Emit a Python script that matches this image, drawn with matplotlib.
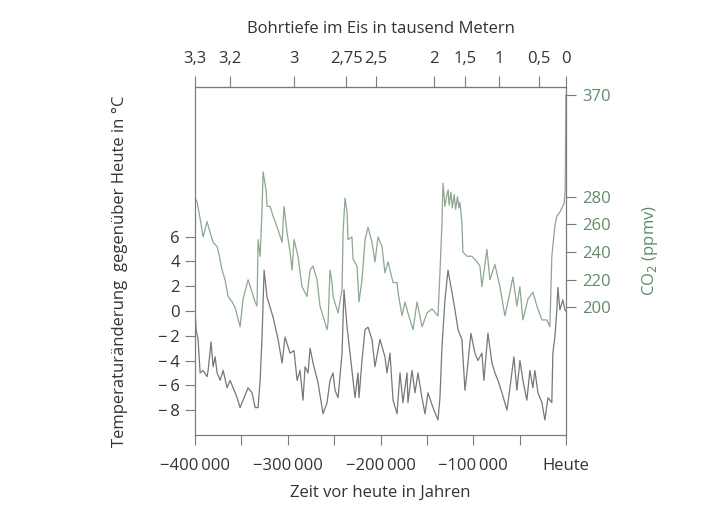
import numpy as np
import matplotlib.pyplot as plt

plt.rcParams['font.family'] = ['Open Sans', 'DejaVu Sans']

# Temperature change (deg C) relative to today, years before present (negative)
years_temp = [-400000, -398900, -396800, -394600, -391400, -387100, -386000, -382800,
              -380600, -378400, -376300, -373000, -369800, -365500, -362300, -359000,
              -354700, -351500, -348300, -342900, -338600, -335300, -332100, -329900,
              -327800, -325600, -322400, -319100, -315900, -310500, -306200, -303000,
              -299700, -297600, -293300, -290000, -286800, -283600, -281400, -278200,
              -276000, -272800, -267400, -262000, -257700, -254500, -251200, -249100,
              -245800, -241500, -239400, -236100, -232900, -230800, -227500, -224300,
              -223200, -220000, -216700, -213500, -209200, -206000, -200600, -195200,
              -193000, -189800, -186500, -182200, -179000, -175800, -171400, -170400,
              -166000, -162800, -159600, -155300, -152000, -148800, -143400, -138000,
              -135900, -133700, -130500, -127200, -122900, -119700, -116400, -112200,
              -108900, -106800, -102500, -98200, -95000, -90600, -88500, -84100,
              -79800, -76600, -73300, -69000, -63600, -60400, -56100, -52900,
              -49600, -46400, -42100, -38900, -35600, -33500, -30200, -25900,
              -22700, -19400, -15200, -14100, -11900, -9800, -8700, -6500,
              -3300, -1100, 0]
temp_change = [0.0, -1.5, -2.3, -5.0, -4.8, -5.3, -4.8, -2.5,
               -4.5, -3.7, -5.0, -5.6, -4.8, -6.2, -5.6, -6.2,
               -7.0, -7.8, -7.2, -6.2, -6.6, -7.8, -7.8, -5.6,
               -2.1, 3.3, 1.1, 0.3, -0.5, -2.3, -4.2, -2.1,
               -2.9, -3.4, -3.2, -5.6, -4.8, -7.2, -4.5, -5.0,
               -3.0, -4.2, -5.8, -8.3, -7.4, -5.6, -5.0, -6.4,
               -7.0, -3.4, 1.7, -1.3, -3.4, -4.8, -7.0, -5.0,
               -7.0, -4.0, -1.5, -1.3, -2.3, -4.5, -2.3, -3.7,
               -5.0, -3.4, -7.2, -8.3, -5.0, -7.4, -5.0, -7.4,
               -4.8, -6.6, -5.0, -7.0, -8.3, -6.6, -7.8, -8.8,
               -7.0, -2.9, 0.9, 3.3, 1.5, 0.1, -1.5, -2.3,
               -6.4, -5.0, -1.8, -3.4, -4.0, -3.4, -5.6, -1.8,
               -4.2, -5.0, -5.6, -6.6, -8.0, -6.2, -3.7, -6.4,
               -4.0, -5.6, -7.2, -4.8, -6.2, -4.8, -6.6, -7.4,
               -8.8, -7.0, -7.4, -3.4, -2.1, 0.1, 1.9, 0.1,
               0.9, 0.1, 0.0]

# CO2 concentration (ppmv)
years_co2 = [-400000, -397800, -394600, -391400, -387100, -383800, -380600, -376300,
             -374100, -370900, -367700, -364400, -360100, -356900, -351500, -348300,
             -342900, -338600, -335300, -333200, -332100, -329900, -327800, -326700,
             -323500, -322400, -319100, -315900, -310500, -306200, -304100, -300800,
             -297600, -295400, -293300, -289000, -284700, -279300, -276000, -272800,
             -268500, -265300, -259900, -257700, -256600, -254500, -252300, -251200,
             -245800, -241500, -240400, -238300, -236100, -235100, -230800, -229700,
             -225400, -223200, -220000, -216700, -213500, -209200, -206000, -202700,
             -198400, -195200, -191900, -186500, -182200, -181100, -176800, -173600,
             -170400, -164900, -160600, -155200, -149900, -144500, -138000, -135900,
             -133700, -132600, -130500, -128300, -127000, -126000, -124000, -122500,
             -120500, -119000, -117000, -115500, -114300, -112200, -111100, -106800,
             -101400, -96000, -92800, -90600, -85200, -82000, -76600, -71200,
             -65800, -60400, -57200, -52900, -49700, -46400, -41000, -35600,
             -31300, -25900, -20500, -17300, -15200, -11900, -9800, -6500,
             -2000, -800, 0]
co2_ppmv = [279, 276, 264, 251, 262, 254, 247, 244,
            238, 227, 220, 208, 204, 200, 186, 206,
            220, 211, 204, 201, 249, 237, 271, 302,
            286, 273, 273, 266, 256, 247, 273, 254,
            240, 227, 249, 237, 215, 208, 227, 230,
            220, 201, 189, 184, 189, 227, 218, 208,
            196, 213, 254, 279, 269, 249, 251, 235,
            230, 204, 220, 249, 258, 247, 233, 251,
            244, 225, 233, 218, 218, 211, 194, 204,
            196, 184, 204, 186, 196, 199, 194, 225,
            261, 292, 273, 282, 286, 274, 284, 272,
            282, 271, 280, 272, 276, 261, 240, 237,
            237, 233, 230, 215, 242, 220, 231, 215,
            194, 211, 222, 201, 215, 191, 206, 211,
            201, 191, 191, 186, 237, 259, 266, 269,
            275, 285, 370]

# axis ticks
time_ticks = [-400000, -350000, -300000, -250000, -200000, -150000, -100000, -50000, 0]
time_labels = ['−400\u2009000', '', '−300\u2009000', '', '−200\u2009000', '',
               '−100\u2009000', '', 'Heute']
temp_ticks = [6, 4, 2, 0, -2, -4, -6, -8]
temp_labels = ['6', '4', '2', '0', '−\u20092', '−\u20094', '−\u20096', '−\u20098']
co2_ticks = [370, 280, 260, 240, 220, 200]

# drilling depth (thousand m) and the age it corresponds to
depth_km = [3.3, 3.2, 3.0, 2.75, 2.5, 2.0, 1.5, 1.0, 0.5, 0.0]
depth_age = [-400000, -362000, -293000, -237000, -205000, -142000, -109000, -72000, -29000, 0]
depth_labels = ['3,3', '3,2', '3', '2,75', '2,5', '2', '1,5', '1', '0,5', '0']

spine_col = '#7a7a7a'
text_col = '#333333'
temp_col = '#777777'
co2_col = '#8aa98f'
co2_text = '#5f8c67'


def age_to_depth(t):
    return np.interp(t, depth_age, depth_km)


def depth_to_age(d):
    return np.interp(d, depth_km[::-1], depth_age[::-1])


# CO2 axis is squeezed above 280 ppmv
def co2_fwd(v):
    v = np.asarray(v, dtype=float)
    return np.where(v <= 280, v, 280 + (v - 280) * 0.818)


def co2_inv(u):
    u = np.asarray(u, dtype=float)
    return np.where(u <= 280, u, 280 + (u - 280) / 0.818)


fig = plt.figure(figsize=(7.2, 5.14), dpi=100)
ax = fig.add_axes([0.271, 0.154, 0.515, 0.677])

ax.plot(years_temp, temp_change, color=temp_col, lw=0.9)
ax.set_xlim(-400000, 0)
ax.set_ylim(-10, 18.1)
ax.set_yticks(temp_ticks, labels=temp_labels)
ax.set_xticks(time_ticks, labels=time_labels)
ax.tick_params(axis='both', direction='out', length=7, width=0.8, color=spine_col,
               labelsize=12, labelcolor=text_col, pad=4)
ax.tick_params(axis='x', pad=9.5)
ax.set_xlabel('Zeit vor heute in Jahren', fontsize=12, color=text_col, labelpad=8)
ax.set_ylabel('Temperaturänderung  gegenüber Heute in °C', fontsize=12,
              color=text_col)
ax.yaxis.set_label_coords(-0.18, 0.471)

ax2 = ax.twinx()
ax2.plot(years_co2, co2_ppmv, color=co2_col, lw=0.9)
ax2.set_yscale('function', functions=(co2_fwd, co2_inv))
ax2.set_ylim(108, 377)
ax2.set_yticks(co2_ticks, labels=[str(v) for v in co2_ticks])
ax2.yaxis.set_minor_locator(plt.NullLocator())
ax2.tick_params(axis='y', direction='out', length=7, width=0.8, color=spine_col,
                labelsize=12, labelcolor=co2_text, pad=5)
ax2.set_ylabel('CO$_2$ (ppmv)', fontsize=12, color=co2_text)
ax2.yaxis.set_label_coords(1.20, 0.53)

sec = ax.secondary_xaxis('top', functions=(age_to_depth, depth_to_age))
sec.set_xticks(depth_km, labels=depth_labels)
sec.tick_params(axis='x', direction='out', length=8, width=0.8, color=spine_col,
                labelsize=12, labelcolor=text_col, pad=6)
sec.set_xlabel('Bohrtiefe im Eis in tausend Metern', fontsize=12, color=text_col,
               labelpad=13)

for a in (ax, ax2):
    for s in a.spines.values():
        s.set_color(spine_col)
        s.set_linewidth(0.8)
sec.spines['top'].set_color(spine_col)
sec.spines['top'].set_linewidth(0.8)

fig.savefig('out.png', dpi=100)
